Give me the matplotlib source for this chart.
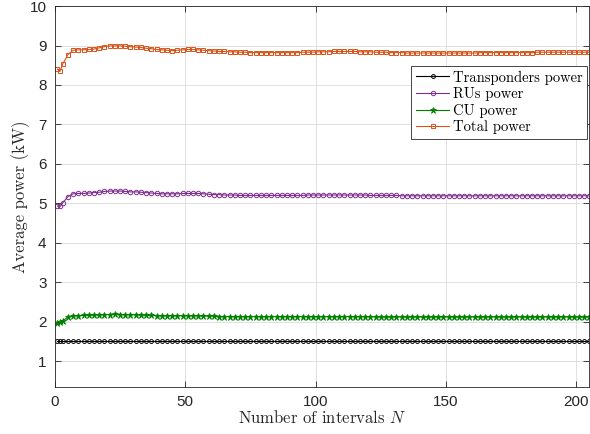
import matplotlib
matplotlib.use("Agg")
import matplotlib.pyplot as plt

# number of intervals N (x axis)
n_intervals = [1, 2, 3] + list(range(5, 206, 2))

total_power = [
    8.40, 8.35, 8.53, 8.77, 8.88, 8.89, 8.89, 8.90, 8.91, 8.94,
    8.97, 8.99, 8.99, 8.99, 8.98, 8.97, 8.96, 8.95, 8.93, 8.92,
    8.90, 8.89, 8.88, 8.87, 8.88, 8.89, 8.90, 8.90, 8.89, 8.88,
    8.87, 8.86, 8.85, 8.85, 8.84, 8.84, 8.83, 8.83, 8.82, 8.82,
    8.82, 8.82, 8.82, 8.82, 8.82, 8.82, 8.82, 8.82, 8.83, 8.83,
    8.83, 8.84, 8.84, 8.84, 8.85, 8.85, 8.85, 8.85, 8.85, 8.84,
    8.84, 8.84, 8.83, 8.83, 8.83, 8.82, 8.82, 8.82, 8.81, 8.81,
    8.81, 8.81, 8.81, 8.81, 8.81, 8.81, 8.81, 8.81, 8.81, 8.81,
    8.81, 8.81, 8.82, 8.82, 8.82, 8.82, 8.82, 8.82, 8.82, 8.82,
    8.82, 8.82, 8.82, 8.83, 8.83, 8.83, 8.83, 8.83, 8.83, 8.83,
    8.83, 8.83, 8.83, 8.83,
]

rus_power = [
    4.93, 4.92, 5.01, 5.17, 5.24, 5.25, 5.25, 5.26, 5.27, 5.28,
    5.30, 5.31, 5.31, 5.31, 5.30, 5.29, 5.29, 5.28, 5.27, 5.26,
    5.25, 5.24, 5.24, 5.24, 5.24, 5.25, 5.25, 5.25, 5.25, 5.24,
    5.23, 5.22, 5.22, 5.21, 5.21, 5.21, 5.20, 5.20, 5.20, 5.20,
    5.20, 5.20, 5.20, 5.20, 5.20, 5.20, 5.20, 5.20, 5.20, 5.21,
    5.21, 5.21, 5.21, 5.21, 5.21, 5.21, 5.21, 5.21, 5.21, 5.21,
    5.21, 5.20, 5.20, 5.20, 5.20, 5.20, 5.20, 5.19, 5.19, 5.19,
    5.19, 5.19, 5.19, 5.19, 5.19, 5.19, 5.19, 5.19, 5.19, 5.19,
    5.19, 5.19, 5.19, 5.19, 5.19, 5.19, 5.19, 5.19, 5.19, 5.19,
    5.19, 5.19, 5.19, 5.19, 5.19, 5.19, 5.19, 5.19, 5.19, 5.19,
    5.19, 5.19, 5.19, 5.19,
]

cu_power = [
    1.97, 1.98, 2.02, 2.11, 2.15, 2.15, 2.16, 2.16, 2.17, 2.17,
    2.18, 2.18, 2.19, 2.18, 2.18, 2.18, 2.17, 2.17, 2.16, 2.16,
    2.15, 2.15, 2.15, 2.15, 2.15, 2.15, 2.15, 2.15, 2.15, 2.14,
    2.14, 2.14, 2.13, 2.13, 2.13, 2.13, 2.13, 2.13, 2.13, 2.13,
    2.13, 2.13, 2.13, 2.13, 2.13, 2.13, 2.13, 2.13, 2.13, 2.13,
    2.13, 2.13, 2.13, 2.13, 2.13, 2.13, 2.13, 2.13, 2.13, 2.13,
    2.13, 2.13, 2.12, 2.12, 2.12, 2.12, 2.12, 2.12, 2.12, 2.12,
    2.12, 2.12, 2.12, 2.12, 2.12, 2.12, 2.12, 2.12, 2.12, 2.12,
    2.12, 2.12, 2.12, 2.12, 2.12, 2.12, 2.12, 2.12, 2.12, 2.12,
    2.12, 2.12, 2.12, 2.12, 2.12, 2.12, 2.12, 2.12, 2.12, 2.12,
    2.12, 2.12, 2.12, 2.12,
]

transponders_power = [1.50] * len(n_intervals)

plt.rcParams['mathtext.fontset'] = 'cm'
serif = 'cmr10'

fig = plt.figure(figsize=(5.9, 4.34), dpi=100)
ax = fig.add_axes([0.093, 0.108, 0.906, 0.878])

ax.plot(n_intervals, transponders_power, color='black', lw=0.8, marker='o',
        ms=2.8, mfc='none', mew=0.7, label='Transponders power')
ax.plot(n_intervals, rus_power, color='#7E2F8E', lw=0.8, marker='o',
        ms=3.2, mfc='none', mew=0.7, label='RUs power')
ax.plot(n_intervals, cu_power, color='#008000', lw=0.8, marker='*',
        ms=4.5, mew=0.6, label='CU power')
ax.plot(n_intervals, total_power, color='#D95319', lw=0.8, marker='s',
        ms=3.3, mfc='none', mew=0.7, label='Total power')

ax.set_xlim(0, 205)
ax.set_ylim(0.34, 10)
ax.set_xticks([0, 50, 100, 150, 200])
ax.set_yticks(range(1, 11))
ax.grid(True, color='#dcdcdc', lw=0.6)
ax.set_axisbelow(True)
ax.tick_params(direction='in', length=4, width=0.6, top=True, right=True,
               labelsize=11, colors='#262626', pad=6)
for lab in ax.get_xticklabels() + ax.get_yticklabels():
    lab.set_fontfamily('Liberation Sans')
for s in ax.spines.values():
    s.set_color('#262626')
    s.set_linewidth(0.6)

ax.set_xlabel('Number of intervals $N$', family=serif, fontsize=12,
              color='#262626', labelpad=0)
ax.set_ylabel('Average power (kW)', family=serif, fontsize=12,
              color='#262626', labelpad=0)

leg = ax.legend(loc='upper right', bbox_to_anchor=(587 / 590, 1 - 66 / 434),
                bbox_transform=fig.transFigure, borderaxespad=0,
                prop={'family': serif, 'size': 10.5}, fancybox=False,
                framealpha=1, edgecolor='#262626', handlelength=2.3,
                handletextpad=0.25, borderpad=0.3, labelspacing=0.18)
leg.get_frame().set_linewidth(0.6)

fig.savefig('out.png', dpi=100)
